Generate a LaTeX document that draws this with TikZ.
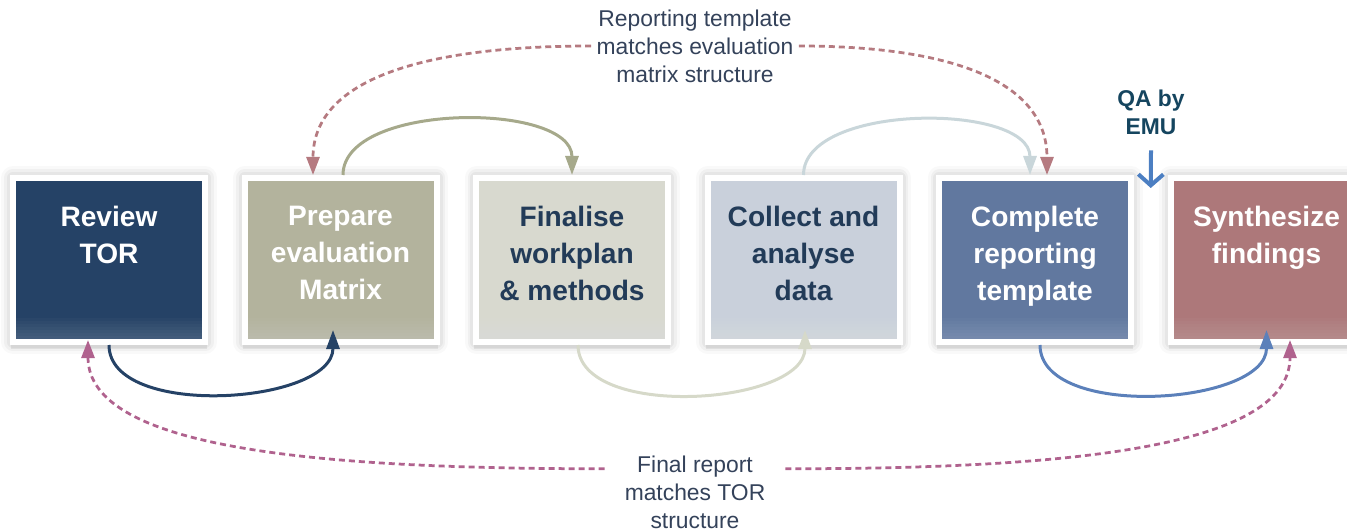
\documentclass[tikz,border=0pt]{standalone}
\usepackage{fontspec}
\setmainfont{Liberation Sans}
\usepackage{xcolor}
\definecolor{tornavy}{HTML}{254266}
\definecolor{matrixolive}{HTML}{B3B39D}
\definecolor{planstone}{HTML}{D8D9CF}
\definecolor{dataslate}{HTML}{C9D0DB}
\definecolor{reportblue}{HTML}{61789F}
\definecolor{synthrose}{HTML}{AD787A}
\definecolor{inknavy}{HTML}{223B58}
\definecolor{notegray}{HTML}{34425A}
\definecolor{linkmauve}{HTML}{B57A80}
\definecolor{linkplum}{HTML}{B0628E}
\definecolor{olivelink}{HTML}{A6A98B}
\definecolor{stonelink}{HTML}{D6D9C9}
\definecolor{mistlink}{HTML}{C9D6DA}
\definecolor{reportlink}{HTML}{5B80BA}
\definecolor{qablue}{HTML}{4C7FC2}
\definecolor{qatext}{HTML}{15455F}
\usetikzlibrary{arrows.meta, positioning, calc, shadows}

\tikzstyle{stepbox} = [
  rectangle, minimum width=3.84cm, minimum height=3.28cm,
  draw=white, line width=0.12cm,
  preaction={draw=black, opacity=0.025, line width=0.46cm, line join=round},
  preaction={draw=black, opacity=0.035, line width=0.34cm, line join=round},
  preaction={draw=black, opacity=0.045, line width=0.24cm, line join=round},
  drop shadow={shadow xshift=0cm, shadow yshift=-0.1cm,
               shadow scale=1.02, opacity=0.07, fill=black},
  % soft light band along the lower edge
  path picture={
    \foreach \h in {0.06,0.12,...,0.48}
      \fill[white, opacity=0.025]
        (path picture bounding box.south west)
        rectangle ([yshift=\h cm]path picture bounding box.south east);
  }
]
\tikzstyle{steptext} = [
  anchor=north, yshift=-0.5cm, align=center, text=white,
  font=\fontsize{16}{21}\selectfont\bfseries
]
\tikzstyle{note} = [
  align=center, inner sep=0.1cm, text=notegray,
  font=\fontsize{13}{16}\selectfont
]
\tikzstyle{flowarrow} = [
  -{Triangle[length=0.38cm, width=0.26cm]}, line width=0.06cm
]
\tikzstyle{dashedarrow} = [
  -{Triangle[length=0.36cm, width=0.26cm]}, line width=0.055cm,
  dash pattern=on 0.12cm off 0.08cm
]
\tikzstyle{qaarrow} = [
  -{Straight Barb[length=0.22cm, width=0.5cm]}, line width=0.08cm,
  color=qablue
]

\begin{document}
\begin{tikzpicture}[node distance=0.67cm]

  \useasboundingbox (0,0) rectangle (26.94,10.62);
  \clip (0,0) rectangle (26.94,10.62);

  % ── Process steps ─────────────────────────────────────
  \node[stepbox, fill=tornavy,
        label={[steptext]north:Review\\TOR}]
    (review) at (2.18,5.42) {};
  \node[stepbox, fill=matrixolive, right=of review,
        label={[steptext]north:Prepare\\evaluation\\Matrix}]
    (prepare) {};
  \node[stepbox, fill=planstone, right=of prepare,
        label={[steptext, text=inknavy]north:Finalise\\workplan\\\& methods}]
    (finalise) {};
  \node[stepbox, fill=dataslate, right=of finalise,
        label={[steptext, text=inknavy]north:Collect and\\analyse\\data}]
    (collect) {};
  \node[stepbox, fill=reportblue, right=of collect,
        label={[steptext]north:Complete\\reporting\\template}]
    (complete) {};
  \node[stepbox, fill=synthrose, right=of complete,
        label={[steptext]north:Synthesize\\findings}]
    (synth) {};

  % ── Notes ─────────────────────────────────────────────
  \node[note, minimum width=4cm] (repnote) at (13.9,9.70)
    {Reporting template\\matches evaluation\\matrix structure};
  \node[note, minimum width=3.6cm] (finalnote) at (13.9,0.78)
    {Final report\\matches TOR\\structure};
  \node[note, text=qatext, font=\fontsize{13}{16}\selectfont\bfseries]
    (qanote) at (23.02,8.37) {QA by\\EMU};

  % ── Step to step ──────────────────────────────────────
  \draw[flowarrow, color=tornavy] (review.south)
    to[out=-90, in=-90, looseness=0.85] ([xshift=-0.15cm, yshift=0.3cm]prepare.south);
  \draw[flowarrow, color=olivelink] ([xshift=0.05cm]prepare.north)
    to[out=90, in=90, looseness=0.82] (finalise.north);
  \draw[flowarrow, color=stonelink] ([xshift=0.12cm]finalise.south)
    to[out=-90, in=-90, looseness=0.85] ([xshift=0.03cm, yshift=0.3cm]collect.south);
  \draw[flowarrow, color=mistlink] (collect.north)
    to[out=90, in=90, looseness=0.82] ([xshift=-0.1cm]complete.north);
  \draw[flowarrow, color=reportlink] ([xshift=0.1cm]complete.south)
    to[out=-90, in=-90, looseness=0.85] ([yshift=0.3cm]synth.south);

  % template and report follow the matrix / TOR
  \draw[dashedarrow, color=linkmauve] (repnote.west)
    .. controls +(-3.4,0) and +(0,1.9) .. ([xshift=-0.55cm]prepare.north);
  \draw[dashedarrow, color=linkmauve] (repnote.east)
    .. controls +(3.0,0) and +(0,1.9) .. ([xshift=0.24cm]complete.north);
  \draw[dashedarrow, color=linkplum] ([yshift=1.19cm]finalnote.base west)
    .. controls +(-5.6,0) and +(0,-2.2) .. ([xshift=-0.42cm, yshift=0.1cm]review.south);
  \draw[dashedarrow, color=linkplum] ([yshift=1.19cm]finalnote.base east)
    .. controls +(5.4,0) and +(0,-2.2) .. ([xshift=0.47cm, yshift=0.1cm]synth.south);

  % QA check between the last two steps
  \coordinate (qatip) at ($(complete.north east)!0.5!(synth.north west) + (0,-0.26)$);
  \draw[qaarrow] ([yshift=-0.2cm]qanote.south) -- (qatip);

\end{tikzpicture}
\end{document}
